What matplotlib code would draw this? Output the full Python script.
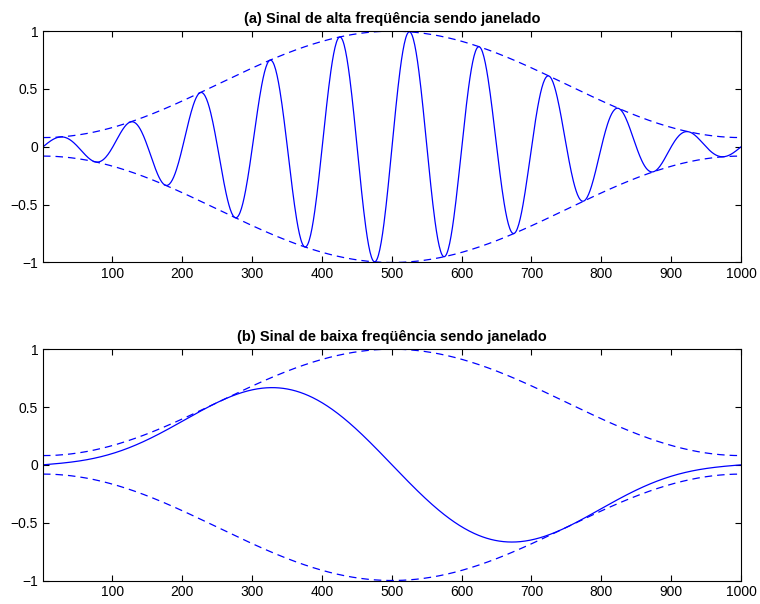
import numpy as np
import matplotlib
matplotlib.use("Agg")
from matplotlib import pyplot as plt

# Signal parameters
n_samples = 1000
cycles_high = 10      # (a) 10 periods across the window
cycles_low = 1        # (b) 1 period across the window
ham_a, ham_b = 0.54, 0.46   # Hamming window coefficients (0.08 .. 1)

titles = ["(a) Sinal de alta freqüência sendo janelado",
          "(b) Sinal de baixa freqüência sendo janelado"]
xticks = [100, 200, 300, 400, 500, 600, 700, 800, 900, 1000]
yticks = [-1, -0.5, 0, 0.5, 1]
ytick_labels = ["\u22121", "\u22120.5", "0", "0.5", "1"]

plt.rcParams['font.family'] = ['Liberation Sans', 'DejaVu Sans']

n = np.arange(1, n_samples + 1)
window = ham_a - ham_b * np.cos(2 * np.pi * (n - 1) / (n_samples - 1))
signals = [window * np.sin(2 * np.pi * cycles_high * (n - 1) / (n_samples - 1)),
           window * np.sin(2 * np.pi * cycles_low * (n - 1) / (n_samples - 1))]

fig = plt.figure(figsize=(7.6, 6.04), dpi=100)
positions = [[0.0566, 0.5654, 0.9184, 0.383],
             [0.0566, 0.0389, 0.9184, 0.383]]
blue = "#0000ff"

for pos, title, sig in zip(positions, titles, signals):
    ax = fig.add_axes(pos)
    ax.plot(n, window, "--", color=blue, lw=0.9, dashes=(6, 4))
    ax.plot(n, -window, "--", color=blue, lw=0.9, dashes=(6, 4))
    ax.plot(n, sig, "-", color=blue, lw=0.9)
    ax.set_xlim(1, n_samples)
    ax.set_ylim(-1, 1)
    ax.set_xticks(xticks)
    ax.set_yticks(yticks)
    ax.set_yticklabels(ytick_labels)
    ax.tick_params(direction="in", length=4, labelsize=10, top=True, right=True, width=0.8)
    for s in ax.spines.values():
        s.set_linewidth(0.8)
    ax.set_title(title, fontsize=10.5, fontweight="bold", pad=6)

fig.savefig("out.png", dpi=100)
